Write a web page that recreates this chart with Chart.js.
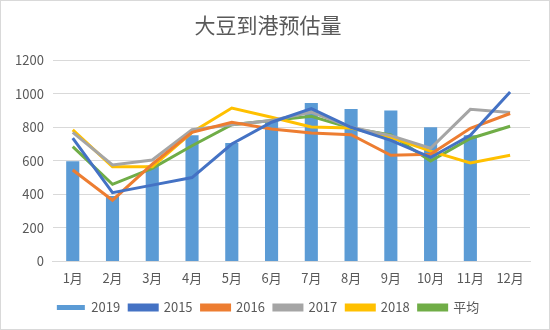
<!DOCTYPE html>
<html>
<head>
<meta charset="utf-8">
<script src="https://cdn.jsdelivr.net/npm/chart.js@4/dist/chart.umd.min.js"></script>
<style>
  html, body { margin: 0; padding: 0; background: #fff; }
  #wrap { width: 550px; height: 330px; box-sizing: border-box; border: 1px solid #d9d9d9; position: relative; }
  canvas { display: block; }
</style>
</head>
<body>
<div id="wrap"><canvas id="chart" width="548" height="328"></canvas></div>
<script>
var months = ['1月', '2月', '3月', '4月', '5月', '6月', '7月', '8月', '9月', '10月', '11月', '12月'];
var v2019 = [597, 390, 570, 752, 706, 835, 945, 909, 900, 800, 752, null];
var v2015 = [735, 410, 455, 500, 700, 830, 911, 800, 722, 620, 752, 1011];
var v2016 = [545, 365, 580, 770, 830, 790, 766, 756, 633, 639, 794, 882];
var v2017 = [770, 575, 605, 785, 815, 840, 890, 800, 750, 675, 907, 888];
var v2018 = [785, 565, 565, 770, 915, 860, 802, 795, 740, 658, 587, 633];
var avg   = [685, 460, 555, 690, 815, 840, 866, 795, 755, 599, 733, 806];
var yTicks = [0, 200, 400, 600, 800, 1000, 1200];

var font = '"Noto Sans CJK SC", "Open Sans", sans-serif';
var textColor = '#595959';

function line(label, data, color) {
    return {
        type: 'line',
        label: label,
        data: data,
        borderColor: color,
        backgroundColor: color,
        borderWidth: 3,
        pointRadius: 0,
        tension: 0,
        order: 1
    };
}

var ctx = document.getElementById('chart');
var myChart = new Chart(ctx, {
    data: {
        labels: months,
        datasets: [
            {
                type: 'bar',
                label: '2019',
                data: v2019,
                backgroundColor: '#5b9bd5',
                barPercentage: 0.66,
                categoryPercentage: 0.5,
                order: 2
            },
            line('2015', v2015, '#4472c4'),
            line('2016', v2016, '#ed7d31'),
            line('2017', v2017, '#a5a5a5'),
            line('2018', v2018, '#ffc000'),
            line('平均', avg, '#70ad47')
        ]
    },
    options: {
        responsive: false,
        animation: false,
        layout: { padding: { left: 5, right: 19, top: 8, bottom: 5 } },
        plugins: {
            title: {
                display: true,
                text: '大豆到港预估量',
                color: textColor,
                font: { family: font, size: 21, weight: 'normal' },
                padding: { top: 3, bottom: 23 }
            },
            legend: {
                position: 'bottom',
                labels: {
                    sort: function(a, b) { return a.datasetIndex - b.datasetIndex; },
                    boxWidth: 28,
                    boxHeight: 5,
                    color: textColor,
                    font: { family: font, size: 13 },
                    padding: 9
                }
            },
            tooltip: { enabled: false }
        },
        scales: {
            x: {
                grid: { display: false },
                border: { color: '#d9d9d9' },
                ticks: { color: textColor, font: { family: font, size: 13 }, maxRotation: 0, autoSkip: false, padding: 1 },
                afterFit: function(axis) { axis.height += 5; }
            },
            y: {
                min: 0,
                max: 1200,
                afterBuildTicks: function(axis) {
                    axis.ticks = yTicks.map(function(v) { return { value: v }; });
                },
                grid: { color: '#d9d9d9', drawTicks: false },
                border: { display: false },
                ticks: {
                    color: textColor,
                    font: { family: font, size: 13 },
                    padding: 9,
                    callback: function(v) { return String(v); }
                }
            }
        }
    }
});
</script>
</body>
</html>
